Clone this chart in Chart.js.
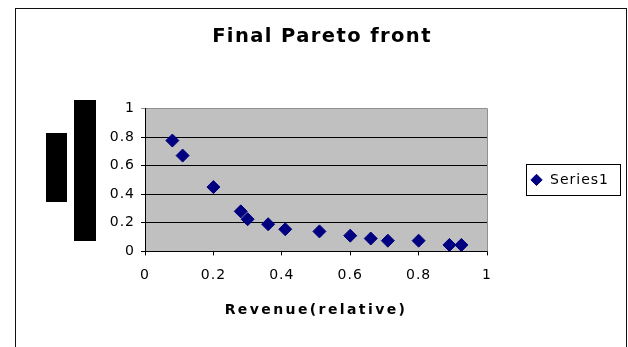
<!DOCTYPE html>
<html><head><meta charset="utf-8">
<script src="https://cdn.jsdelivr.net/npm/chart.js@4/dist/chart.umd.min.js"></script>
<style>html,body{margin:0;padding:0;background:#fff;}canvas{display:block;}</style>
</head><body>
<canvas id="c" width="628" height="347"></canvas>
<script>
const chartTitle = 'Final Pareto front';
const xAxisTitle = 'Revenue(relative)';
const seriesName = 'Series1';
const revenue = [0.08, 0.11, 0.20, 0.28, 0.30, 0.36, 0.41, 0.51, 0.60, 0.66, 0.71, 0.80, 0.89, 0.925];
const secondObjective = [0.775, 0.67, 0.45, 0.28, 0.225, 0.19, 0.155, 0.14, 0.11, 0.09, 0.075, 0.075, 0.045, 0.045];
const xTickValues = [0, 0.2, 0.4, 0.6, 0.8, 1];
const yTickValues = [0, 0.2, 0.4, 0.6, 0.8, 1];

const FONT = "'DejaVu Sans', 'Liberation Sans', Arial, sans-serif";
const BASE_SP = '1px';

function wrapSpacing(obj, method, sp) {
  if (!obj || !obj[method] || obj[method].__wrapped) return;
  const orig = obj[method];
  const f = function (...args) {
    const c = this.ctx;
    c.save(); c.letterSpacing = sp;
    const r = orig.apply(this, args);
    c.restore();
    return r;
  };
  f.__wrapped = true;
  obj[method] = f;
}

const framePlugin = {
  id: 'frame',
  beforeUpdate(chart) { chart.ctx.letterSpacing = BASE_SP; },
  beforeDraw(chart) {
    const ctx = chart.ctx;
    ctx.letterSpacing = BASE_SP;
    wrapSpacing(chart.titleBlock, 'draw', '1.4px');
    wrapSpacing(chart.scales.x, 'drawTitle', '2.4px');
    const a = chart.chartArea;
    ctx.save();
    ctx.fillStyle = '#fff';
    ctx.fillRect(0, 0, chart.width, chart.height);
    ctx.strokeStyle = '#111';
    ctx.lineWidth = 1;
    ctx.strokeRect(15.5, 8.5, 611, 400);
    ctx.fillStyle = '#000';
    ctx.fillRect(46, 133, 21, 69);
    ctx.fillRect(74, 100, 22, 141);
    ctx.fillStyle = '#c0c0c0';
    ctx.fillRect(a.left, a.top, a.right - a.left, a.bottom - a.top);
    ctx.restore();
  },
  beforeDatasetsDraw(chart) {
    const ctx = chart.ctx, a = chart.chartArea;
    ctx.save();
    ctx.strokeStyle = '#909090';
    ctx.lineWidth = 1;
    ctx.beginPath();
    ctx.moveTo(Math.round(a.right) + 0.5, a.top);
    ctx.lineTo(Math.round(a.right) + 0.5, a.bottom);
    ctx.stroke();
    ctx.restore();
  },
  afterDraw(chart) {
    const lg = chart.legend;
    if (!lg || !lg.legendHitBoxes || !lg.legendHitBoxes.length) return;
    const hb = lg.legendHitBoxes[0];
    const ctx = chart.ctx;
    ctx.save();
    ctx.strokeStyle = '#000';
    ctx.lineWidth = 1;
    const l = Math.round(hb.left) - 3.5;
    const t = Math.round(hb.top) - 8.5;
    const r = Math.round(hb.left + hb.width) + 11.5;
    const b = Math.round(hb.top + hb.height) + 8.5;
    ctx.strokeRect(l, t, r - l, b - t);
    ctx.restore();
  }
};

new Chart(document.getElementById('c'), {
  type: 'scatter',
  data: {
    datasets: [{
      label: seriesName,
      data: revenue.map((x, i) => ({ x, y: secondObjective[i] })),
      pointStyle: 'rectRot',
      pointRadius: 6.5,
      pointHoverRadius: 6.5,
      backgroundColor: '#000080',
      borderColor: '#000080',
      borderWidth: 1
    }]
  },
  options: {
    responsive: false,
    animation: false,
    events: [],
    layout: { padding: { left: 25, right: 9, top: 0, bottom: 28 } },
    plugins: {
      tooltip: { enabled: false },
      title: {
        display: true,
        text: chartTitle,
        color: '#000',
        font: { family: FONT, size: 19.5, weight: 'bold' },
        padding: { top: 25, bottom: 60 }
      },
      legend: {
        position: 'right',
        fullSize: false,
        labels: {
          usePointStyle: true,
          pointStyle: 'rectRot',
          boxWidth: 13,
          boxHeight: 8,
          padding: 43,
          color: '#000',
          font: { family: FONT, size: 14 }
        }
      }
    },
    scales: {
      x: {
        type: 'linear',
        min: 0, max: 1,
        afterBuildTicks: s => { s.ticks = xTickValues.map(v => ({ value: v })); },
        ticks: {
          color: '#000',
          padding: 12,
          maxRotation: 0,
          font: { family: FONT, size: 14 },
          callback: v => String(+v.toFixed(1))
        },
        grid: { drawOnChartArea: false, drawTicks: true, tickLength: 4, color: '#000' },
        border: { color: '#000', width: 1 },
        title: {
          display: true,
          text: xAxisTitle,
          color: '#000',
          font: { family: FONT, size: 14, weight: 'bold' },
          padding: { top: 6, bottom: 0 }
        }
      },
      y: {
        type: 'linear',
        min: 0, max: 1,
        afterBuildTicks: s => { s.ticks = yTickValues.map(v => ({ value: v })); },
        afterFit: s => { s.width = 120; },
        ticks: {
          color: '#000',
          padding: 6,
          font: { family: FONT, size: 14 },
          callback: v => String(+v.toFixed(1))
        },
        grid: {
          drawTicks: true,
          tickLength: 4,
          color: ctx => (ctx.tick && ctx.tick.value === 1 ? '#909090' : '#000'),
          lineWidth: 1
        },
        border: { color: '#000', width: 1 }
      }
    }
  },
  plugins: [framePlugin]
});
</script>
</body></html>
